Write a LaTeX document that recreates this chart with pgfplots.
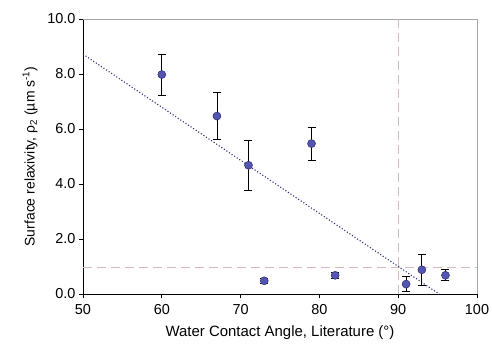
\documentclass[border=0pt]{standalone}
\usepackage{fontspec}
\setmainfont{Liberation Sans}
\usepackage{pgfplots}
\pgfplotsset{compat=1.18}
\definecolor{markfill}{HTML}{5355B0}
\definecolor{markedge}{HTML}{2A2C70}
\definecolor{trend}{HTML}{2B2F80}
\definecolor{refline}{HTML}{D6B9BC}
\begin{document}
\begin{tikzpicture}
\path[use as bounding box] (-83bp,-55bp) rectangle (409bp,294bp);
\begin{axis}[
  at={(0,0)}, anchor=south west,
  scale only axis, width=394bp, height=275bp,
  xmin=50, xmax=100, ymin=0, ymax=10,
  axis x line*=bottom, axis y line*=left,
  axis line style={black, line width=0.8pt, -},
  xtick={50,60,70,80,90,100},
  ytick={0,2,4,6,8,10},
  tick align=outside, major tick length=4bp,
  tick style={black, line width=0.8pt},
  yticklabel style={/pgf/number format/.cd, fixed, fixed zerofill, precision=1},
  /pgf/number format/assume math mode=true,
  ticklabel style={font=\fontsize{14.5}{16}\selectfont},
  xticklabel style={yshift=-3bp},
  xlabel style={font=\fontsize{15}{17}\selectfont, yshift=-4bp},
  ylabel style={font=\fontsize{14}{16}\selectfont, yshift=3bp},
  xlabel={Water Contact Angle, Literature (°)},
  ylabel={Surface relaxivity, ρ\textsubscript{2} (µm s\textsuperscript{-1})},
  clip=false,
]
% box top/right
\draw[gray!70, line width=0.8pt] (axis cs:50,10) -- (axis cs:100,10) -- (axis cs:100,0);
% reference lines
\addplot[refline, line width=1pt, dash pattern=on 9bp off 5bp] coordinates {(90,0) (90,10)};
\addplot[refline, line width=1pt, dash pattern=on 9bp off 5bp] coordinates {(50,0.97) (100,0.97)};
% trend line
\addplot[trend, line width=1.1pt, dotted] coordinates {(50,8.72) (95.2,0)};
% data
\addplot[only marks, mark=*, mark size=4bp,
  mark options={fill=markfill, draw=markedge, line width=0.5pt},
  error bars/.cd, y dir=both, y explicit,
  error bar style={black, line width=0.7pt},
  error mark options={rotate=90, mark size=4bp, black, line width=0.7pt}]
  coordinates {
  (60,7.98) +- (0,0.75)
  (67,6.47) +- (0,0.85)
  (71,4.68) +- (0,0.9)
  (73,0.48) +- (0,0.08)
  (79,5.47) +- (0,0.6)
  (82,0.68) +- (0,0.1)
  (91,0.36) +- (0,0.28)
  (93,0.88) +- (0,0.55)
  (96,0.68) +- (0,0.2)
  };
\end{axis}
\end{tikzpicture}
\end{document}
